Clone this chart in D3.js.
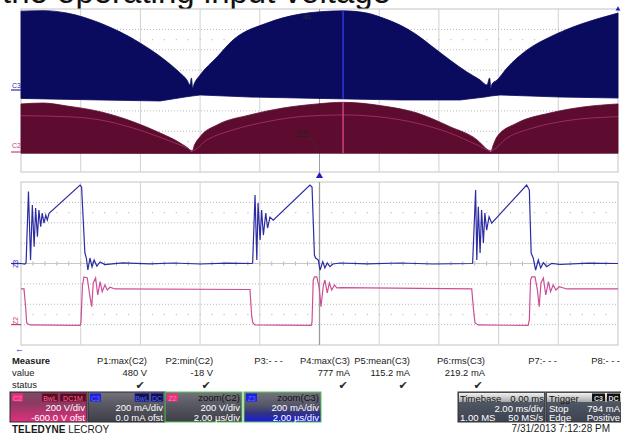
<!DOCTYPE html>
<html>
<head>
<meta charset="utf-8">
<script src="https://cdn.jsdelivr.net/npm/d3@7"></script>
<style>
  body { margin: 0; background: #fff; }
  svg { display: block; font-family: "Liberation Sans", Arial, sans-serif; }
</style>
</head>
<body>
<div id="scope"></div>
<script>
// ---- data ----
// top panel : acquisition, 2 ms/div. [time ms, value]
const c3EnvHigh = [[0,779],[0.74,784],[1.54,760],[2.65,662],[3.99,466],[4.82,299],[5.33,172],[5.56,103],[5.66,54],[5.71,123],[5.75,25],[5.8,64],[6.0,152],[6.57,330],[7.1,495],[8.24,662],[9.35,750],[10.02,773],[10.79,782],[11.59,760],[12.13,711],[12.7,642],[13.27,544],[13.8,426],[14.37,299],[14.94,181],[15.38,103],[15.61,54],[15.7,123],[15.74,25],[15.78,64],[15.95,103],[16.28,221],[16.95,397],[17.72,525],[18.49,623],[19.4,711],[20,760]]
const c3EnvLow = [[0,-78],[2.65,-93],[4.66,-103],[5.49,-64],[5.73,-54],[6.0,-44],[7.67,-64],[10.02,-78],[12.7,-93],[14.71,-93],[15.54,-64],[15.74,-54],[16.05,-44],[18.06,-64],[20,-74]]
const c2EnvHigh = [[0,468],[0.74,477],[1.54,448],[2.65,392],[3.75,294],[4.66,183],[5.33,85],[5.66,17],[5.73,-3],[5.8,56],[6.0,147],[6.57,262],[7.67,360],[8.78,428],[9.92,468],[10.79,484],[12.13,448],[13.27,379],[14.37,245],[15.28,115],[15.64,17],[15.74,-3],[15.81,56],[15.95,147],[16.62,281],[17.72,379],[18.83,438],[20,468]]
const c2EnvLow = [[0,-16],[5.73,-18],[10,-16],[15.74,-18],[20,-16]]
const c2Mean = [[0,353],[1.54,343],[2.65,311],[3.75,232],[4.89,115],[5.56,36],[5.73,10],[6.23,115],[7.1,213],[8.24,294],[9.35,343],[10.79,360],[12.13,337],[13.27,278],[14.37,183],[15.28,66],[15.74,10],[16.28,134],[17.15,232],[18.29,304],[20,343]]
const zoomCursorMs = 10.79
const triggerMs = 10

// bottom panel : zoom traces, 2 µs/div. [time µs, value]
const z3Trace = [[0,0],[0.13,-5],[0.17,5],[0.25,706],[0.32,34],[0.38,574],[0.44,165],[0.49,544],[0.55,263],[0.6,525],[0.66,361],[0.71,495],[0.77,397],[0.83,475],[0.88,426],[0.94,492],[1.98,770],[2.03,750],[2.14,103],[2.19,54],[2.24,-64],[2.31,54],[2.38,-34],[2.45,34],[2.54,-25],[2.65,15],[2.81,-10],[3.4,6],[4.32,-4],[5.1,5],[6.0,-5],[6.9,4],[7.73,0],
  [7.76,5],[7.84,672],[7.9,34],[7.94,593],[8.01,230],[8.06,525],[8.12,279],[8.2,495],[8.26,348],[8.34,456],[8.45,426],[9.68,770],[9.75,750],[9.83,83],[9.87,54],[9.96,34],[10.02,-64],[10.11,18],[10.18,-44],[10.26,5],[10.35,-31],[10.45,-5],[10.69,5],[11.6,-4],[12.7,5],[13.8,-5],[15.11,0],
  [15.13,5],[15.23,721],[15.27,34],[15.32,557],[15.38,103],[15.43,525],[15.49,201],[15.54,495],[15.6,328],[15.68,459],[15.77,397],[16.94,770],[17.03,721],[17.09,103],[17.16,54],[17.24,-64],[17.33,34],[17.41,-44],[17.5,8],[17.61,-31],[17.78,2],[18.06,-10],[19.0,4],[20,0]]
const z2Trace = [[0,350],[0.1,350],[0.15,193],[0.19,17],[0.3,-3],[1.98,-8],[2.01,26],[2.06,389],[2.11,468],[2.22,458],[2.31,275],[2.37,176],[2.42,409],[2.5,458],[2.57,291],[2.65,422],[2.72,324],[2.81,389],[2.89,340],[2.98,367],[3.15,350],[7.67,345],[7.73,78],[7.77,17],[7.84,-3],
  [9.72,-8],[9.75,26],[9.79,438],[9.83,468],[9.91,468],[9.99,360],[10.05,176],[10.13,389],[10.18,438],[10.26,311],[10.33,409],[10.41,340],[10.5,389],[10.58,360],[10.74,363],[15.1,350],[15.16,144],[15.21,17],[15.32,-3],
  [16.99,-8],[17.03,46],[17.07,438],[17.11,468],[17.22,468],[17.3,340],[17.36,176],[17.42,409],[17.5,458],[17.58,291],[17.67,422],[17.74,324],[17.83,389],[17.92,340],[18.03,372],[18.28,350],[20,350]]

// measurement table
const measNames = ["P1:max(C2)", "P2:min(C2)", "P3:- - -", "P4:max(C3)", "P5:mean(C3)", "P6:rms(C3)", "P7:- - -", "P8:- - -"]
const measValues = ["480 V", "-18 V", "", "777 mA", "115.2 mA", "219.2 mA", "", ""]
const measOk = [true, true, false, true, true, true, false, false]

// channel / timebase descriptors
const chanTags = ["C2", "C3", "Z2", "Z3"]
const chanHead = ["", "", "zoom(C2)", "zoom(C3)"]
const chanLine1 = ["200 V/div", "200 mA/div", "200 V/div", "200 mA/div"]
const chanLine2 = ["-600.0 V ofst", "0.0 mA ofst", "2.00 µs/div", "2.00 µs/div"]
const timebase = ["Timebase", "0.00 ms", "2.00 ms/div", "1.00 MS", "50 MS/s"]
const trigger = ["Trigger", "794 mA", "Stop", "Edge", "Positive"]

// ---- layout ----
const W = 621, H = 440
const svg = d3.select("#scope").append("svg").attr("width", W).attr("height", H)
const defs = svg.append("defs")

function grad(id, stops) {
  const g = defs.append("linearGradient").attr("id", id).attr("x1", 0).attr("x2", 0).attr("y1", 0).attr("y2", 1)
  stops.forEach(s => g.append("stop").attr("offset", s[0]).attr("stop-color", s[1]))
}
grad("gC2", [[0, "#7c4a66"], [0.35, "#8a3a62"], [1, "#e0307c"]])
grad("gGray", [[0, "#74747c"], [0.35, "#5c5c66"], [1, "#3e3e48"]])
grad("gZ3", [[0, "#74747c"], [0.45, "#55556a"], [0.7, "#333380"], [1, "#1a1ae0"]])
grad("gHead", [[0, "#f0f0f0"], [1, "#a8a8a8"]])
grad("gBody", [[0, "#5a6270"], [1, "#3c424e"]])

// title clipped at top of the slide
svg.append("text").attr("x", 2).attr("y", 3)
  .attr("font-size", 33).attr("fill", "#111")
  .text("the operating input voltage")

const xTop = d3.scaleLinear().domain([0, 20]).range([21, 618])
const yTop = d3.scaleLinear().domain([-4, 4]).range([172, 9])
const xBot = d3.scaleLinear().domain([0, 20]).range([21, 618])
const yBot = d3.scaleLinear().domain([-4, 4]).range([345, 182])
const c3Div = mA => mA / 200
const c2Div = v => (v - 600) / 200

function grid(x, y) {
  const g = svg.append("g")
  const [x0, x1] = x.range(), [y0, y1] = y.range()
  g.append("rect").attr("x", x0).attr("y", y1).attr("width", x1 - x0).attr("height", y0 - y1)
    .attr("fill", "#fff").attr("stroke", "#c4c4c4")
  const xt = d3.range(1, 10).map(i => x.domain()[0] + i * 2)
  g.selectAll(".v").data(xt).join("line")
    .attr("x1", d => x(d)).attr("x2", d => x(d)).attr("y1", y1).attr("y2", y0)
    .attr("stroke", "#d2d2d2")
  g.selectAll(".h").data(d3.range(-3, 4)).join("line")
    .attr("x1", x0).attr("x2", x1).attr("y1", d => y(d)).attr("y2", d => y(d))
    .attr("stroke", "#b8b8b8").attr("stroke-dasharray", "1,2")
  // minor ticks
  const minor = d3.range(1, 50).map(i => x.domain()[0] + i * 0.4)
  ;[2.5, -2.5].forEach(r => {
    g.selectAll(null).data(minor).join("rect")
      .attr("x", d => x(d) - 0.5).attr("y", y(r) - 0.5).attr("width", 1.2).attr("height", 1.2)
      .attr("fill", "#c0c0c0")
  })
  g.selectAll(null).data(minor).join("line")
    .attr("x1", d => x(d)).attr("x2", d => x(d)).attr("y1", y(0) - 2).attr("y2", y(0) + 2)
    .attr("stroke", "#b0b0b0")
  g.append("line").attr("x1", x0).attr("x2", x1).attr("y1", y(0)).attr("y2", y(0))
    .attr("stroke", "#c8c8c8")
  return g
}

// ---- top panel ----
grid(xTop, yTop)
svg.append("line").attr("x1", xTop(triggerMs)).attr("x2", xTop(triggerMs))
  .attr("y1", 9).attr("y2", 172).attr("stroke", "#a0a0a0")

const edgeSmooth = d3.line().x(d => xTop(d[0])).y(d => yTop(d[1])).curve(d3.curveMonotoneX)
const edgeFlat = d3.line().x(d => xTop(d[0])).y(d => yTop(d[1]))
function band(high, low, conv) {
  const top = edgeSmooth(high.map(d => [d[0], conv(d[1])]))
  const bot = edgeFlat(low.slice().reverse().map(d => [d[0], conv(d[1])]))
  return top + "L" + bot.slice(1) + "Z"
}
svg.append("path").attr("d", band(c3EnvHigh, c3EnvLow, c3Div)).attr("fill", "#0a0a5e")
  .attr("stroke", "#0a0a5e").attr("stroke-width", 0.8)
svg.append("path").attr("d", band(c2EnvHigh, c2EnvLow, c2Div)).attr("fill", "#5e0b30")
  .attr("stroke", "#5e0b30").attr("stroke-width", 0.8)
svg.append("path").attr("d", edgeSmooth(c2Mean.map(d => [d[0], c2Div(d[1])])))
  .attr("fill", "none").attr("stroke", "#9a2c5c").attr("stroke-width", 1)

// zoom position highlight
svg.append("line").attr("x1", xTop(zoomCursorMs)).attr("x2", xTop(zoomCursorMs))
  .attr("y1", yTop(c3Div(782))).attr("y2", yTop(c3Div(-80))).attr("stroke", "#2a3ad8").attr("stroke-width", 1.5)
svg.append("line").attr("x1", xTop(zoomCursorMs)).attr("x2", xTop(zoomCursorMs))
  .attr("y1", yTop(c2Div(484))).attr("y2", yTop(c2Div(-16))).attr("stroke", "#d0407a").attr("stroke-width", 1.5)

// small annotations
svg.append("text").attr("x", 296).attr("y", 135).attr("font-size", 7).attr("fill", "#222")
  .attr("text-decoration", "underline").text("V02")
svg.append("line").attr("x1", 309).attr("y1", 137).attr("x2", 318).attr("y2", 150)
  .attr("stroke", "#333").attr("stroke-width", 0.7)
svg.append("text").attr("x", 303).attr("y", 19).attr("font-size", 6).attr("fill", "#333").text("I01")

// channel markers, top
svg.append("text").attr("x", 12).attr("y", 88).attr("font-size", 7).attr("fill", "#2a2ab0").text("C3")
svg.append("line").attr("x1", 11).attr("x2", 21).attr("y1", 90).attr("y2", 90).attr("stroke", "#2a2ab0").attr("stroke-width", 1.2)
svg.append("text").attr("x", 12).attr("y", 148).attr("font-size", 7).attr("fill", "#c8407a").text("C2")
svg.append("line").attr("x1", 11).attr("x2", 21).attr("y1", 152).attr("y2", 152).attr("stroke", "#c8407a").attr("stroke-width", 1.2)

// trigger markers
const tri = d3.symbol().type(d3.symbolTriangle).size(22)
svg.append("path").attr("d", tri).attr("transform", `translate(${xTop(triggerMs)},176)`).attr("fill", "#2020c0")
svg.append("path").attr("d", d3.symbol().type(d3.symbolTriangle).size(10)).attr("transform", "translate(618,9)").attr("fill", "#2020c0")

// ---- bottom panel ----
grid(xBot, yBot)
svg.append("line").attr("x1", xBot(10)).attr("x2", xBot(10)).attr("y1", 182).attr("y2", 345)
  .attr("stroke", "#9c9c9c").attr("stroke-width", 1.3)

const lineZ3 = d3.line().x(d => xBot(d[0])).y(d => yBot(c3Div(d[1])))
const lineZ2 = d3.line().x(d => xBot(d[0])).y(d => yBot(c2Div(d[1])))
svg.append("path").attr("d", lineZ3(z3Trace)).attr("fill", "none").attr("stroke", "#2c2ca2").attr("stroke-width", 1.2)
svg.append("path").attr("d", lineZ2(z2Trace)).attr("fill", "none").attr("stroke", "#cc4f96").attr("stroke-width", 1.2)

svg.append("text").attr("transform", "translate(18,268) rotate(-90)").attr("font-size", 7).attr("fill", "#2a2ab0").text("Z3")
svg.append("line").attr("x1", 11).attr("x2", 21).attr("y1", yBot(0)).attr("y2", yBot(0)).attr("stroke", "#2a2ab0").attr("stroke-width", 1.2)
svg.append("text").attr("transform", "translate(18,325) rotate(-90)").attr("font-size", 7).attr("fill", "#c8407a").text("Z2")
svg.append("line").attr("x1", 11).attr("x2", 21).attr("y1", yBot(c2Div(0))).attr("y2", yBot(c2Div(0))).attr("stroke", "#c8407a").attr("stroke-width", 1.2)
svg.append("text").attr("x", 15).attr("y", 352).attr("font-size", 9).attr("fill", "#2020c0").text("←")

// ---- measure table ----
const tbl = svg.append("g").attr("font-size", 9.4).attr("fill", "#1a1a1a")
tbl.append("text").attr("x", 12).attr("y", 364).attr("font-weight", "bold").text("Measure")
tbl.append("text").attr("x", 12).attr("y", 376).text("value")
tbl.append("text").attr("x", 12).attr("y", 388).text("status")
const colRight = [147, 213, 283, 350, 410, 485, 557, 620]
tbl.selectAll(".mn").data(measNames).join("text")
  .attr("x", (d, i) => colRight[i]).attr("y", 364).attr("text-anchor", "end").text(d => d)
tbl.selectAll(".mv").data(measValues).join("text")
  .attr("x", (d, i) => colRight[i]).attr("y", 376).attr("text-anchor", "end").text(d => d)
tbl.selectAll(".ms").data(measOk).join("text")
  .attr("x", (d, i) => colRight[i] - 7).attr("y", 389).attr("text-anchor", "middle")
  .attr("font-family", "DejaVu Sans").attr("font-size", 11).attr("fill", "#2a2a2a")
  .text(d => d ? "✔" : "")

// ---- channel boxes ----
const boxX = [10, 88, 165, 244]
const boxFill = ["url(#gC2)", "url(#gGray)", "url(#gGray)", "url(#gZ3)"]
const tagCol = ["#e8307c", "#1f1fe0", "#e8307c", "#1f1fe0"]
const bx = svg.append("g").attr("font-size", 9.5)
chanTags.forEach((t, i) => {
  const x = boxX[i], w = 77
  bx.append("rect").attr("x", x).attr("y", 392).attr("width", w).attr("height", 30)
    .attr("fill", boxFill[i]).attr("stroke", i >= 2 ? "#5ac85a" : "#2a2a30").attr("stroke-width", 1)
  bx.append("rect").attr("x", x + 2).attr("y", 393.5).attr("width", 11).attr("height", 8).attr("fill", tagCol[i])
  bx.append("text").attr("x", x + 7.5).attr("y", 400.5).attr("text-anchor", "middle").attr("font-size", 7)
    .attr("fill", i % 2 ? "#6070ff" : "#ff80b0").text(t)
  if (chanHead[i]) {
    bx.append("text").attr("x", x + w - 2).attr("y", 401).attr("text-anchor", "end").attr("fill", "#111").text(chanHead[i])
  }
  bx.append("text").attr("x", x + w - 2).attr("y", 411).attr("text-anchor", "end").attr("fill", "#fff").text(chanLine1[i])
  bx.append("text").attr("x", x + w - 2).attr("y", 420.5).attr("text-anchor", "end").attr("fill", "#fff").text(chanLine2[i])
})
// coupling tags
const cplTags = [[0, 32, 16, "BwL"], [0, 50, 26, "DC1M"], [1, 47, 14, "BwL"], [1, 63, 12, "DC"]]
cplTags.forEach(c => {
  const x = boxX[c[0]] + c[1]
  const red = c[0] === 0
  bx.append("rect").attr("x", x).attr("y", 393.5).attr("width", c[2]).attr("height", 8)
    .attr("fill", red ? "#5a0c22" : "#10104e").attr("stroke", red ? "#a02050" : "#2a2ab0").attr("stroke-width", 0.6)
  bx.append("text").attr("x", x + c[2] / 2).attr("y", 400.5).attr("text-anchor", "middle").attr("font-size", 7)
    .attr("fill", red ? "#ff6a9a" : "#5a6aff").text(c[3])
})

// timebase
const tb = svg.append("g").attr("font-size", 9.5)
tb.append("rect").attr("x", 458).attr("y", 392).attr("width", 87).attr("height", 30).attr("fill", "url(#gBody)").attr("stroke", "#333")
tb.append("rect").attr("x", 459).attr("y", 393).attr("width", 85).attr("height", 9).attr("fill", "url(#gHead)")
tb.append("text").attr("x", 460).attr("y", 401.5).attr("fill", "#111").text(timebase[0])
tb.append("text").attr("x", 544).attr("y", 401.5).attr("text-anchor", "end").attr("fill", "#111").text(timebase[1])
tb.append("text").attr("x", 543).attr("y", 411.5).attr("text-anchor", "end").attr("fill", "#fff").text(timebase[2])
tb.append("text").attr("x", 460).attr("y", 421).attr("fill", "#fff").text(timebase[3])
tb.append("text").attr("x", 543).attr("y", 421).attr("text-anchor", "end").attr("fill", "#fff").text(timebase[4])

// trigger
tb.append("rect").attr("x", 546).attr("y", 392).attr("width", 76).attr("height", 30).attr("fill", "url(#gBody)").attr("stroke", "#333")
tb.append("rect").attr("x", 547).attr("y", 393).attr("width", 74).attr("height", 9).attr("fill", "url(#gHead)")
tb.append("text").attr("x", 549).attr("y", 401.5).attr("fill", "#111").text(trigger[0])
;[["C3", 592], ["DC", 607]].forEach(t => {
  tb.append("rect").attr("x", t[1]).attr("y", 393.5).attr("width", 13).attr("height", 8).attr("fill", "#111")
  tb.append("text").attr("x", t[1] + 6.5).attr("y", 400.5).attr("text-anchor", "middle").attr("font-size", 7)
    .attr("font-weight", "bold").attr("fill", "#ddd").text(t[0])
})
tb.append("text").attr("x", 549).attr("y", 411.5).attr("fill", "#fff").text(trigger[2])
tb.append("text").attr("x", 620).attr("y", 411.5).attr("text-anchor", "end").attr("fill", "#fff").text(trigger[1])
tb.append("text").attr("x", 549).attr("y", 421).attr("fill", "#fff").text(trigger[3])
tb.append("text").attr("x", 620).attr("y", 421).attr("text-anchor", "end").attr("fill", "#fff").text(trigger[4])

// footer
const ft = svg.append("text").attr("x", 12).attr("y", 433).attr("font-size", 10).attr("fill", "#1a1a1a")
ft.append("tspan").attr("font-weight", "bold").text("TELEDYNE ")
ft.append("tspan").text("LECROY")
svg.append("text").attr("x", 610).attr("y", 432).attr("text-anchor", "end").attr("font-size", 10)
  .attr("fill", "#1a1a1a").text("7/31/2013 7:12:28 PM")
</script>
</body>
</html>
